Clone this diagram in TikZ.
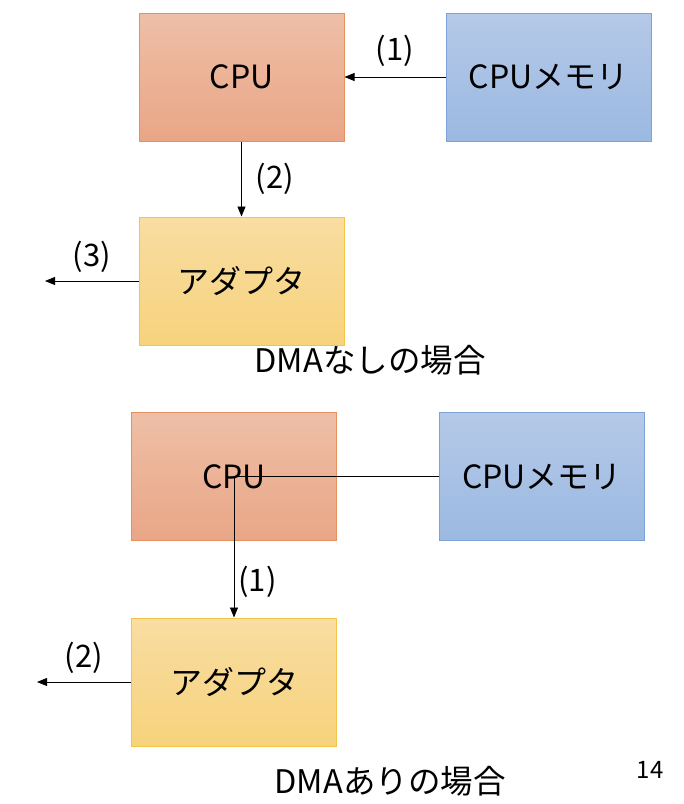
\documentclass[tikz,border=0pt]{standalone}
\usepackage{fontspec}
\setmainfont{Noto Sans CJK JP}
\usetikzlibrary{positioning,arrows.meta}
\definecolor{cpuTop}{RGB}{238,191,167}
\definecolor{cpuBot}{RGB}{233,166,134}
\definecolor{cpuLine}{RGB}{228,145,95}
\definecolor{memTop}{RGB}{181,201,232}
\definecolor{memBot}{RGB}{155,185,225}
\definecolor{memLine}{RGB}{125,162,215}
\definecolor{adpTop}{RGB}{249,221,162}
\definecolor{adpBot}{RGB}{246,211,124}
\definecolor{adpLine}{RGB}{243,196,72}
\begin{document}
\begin{tikzpicture}[x=1pt,y=-1pt,
    box/.style={minimum width=205pt, minimum height=128pt, inner sep=0pt,
        line width=1pt, font=\fontsize{32}{38}\selectfont},
    cpu/.style={box, draw=cpuLine, top color=cpuTop, bottom color=cpuBot},
    mem/.style={box, draw=memLine, top color=memTop, bottom color=memBot},
    adp/.style={box, draw=adpLine, top color=adpTop, bottom color=adpBot},
    lbl/.style={font=\fontsize{31}{36}\selectfont, inner sep=2pt},
    caption/.style={font=\fontsize{32.5}{38}\selectfont, anchor=base, inner sep=0pt},
    arr/.style={line width=0.8pt, -{Triangle[length=10pt,width=8pt]}}]
    \useasboundingbox (0,0) rectangle (684,804);

    % DMA nashi
    \node[cpu] (cpu1) at (241.5,77) {CPU};
    \node[mem] (mem1) at (548.5,77) {CPUメモリ};
    \node[adp] (adp1) at (241.5,281) {アダプタ};
    \coordinate (out1) at (45,281);
    \draw[arr] (mem1) -- node[lbl, above=8pt] {(1)} (cpu1);
    \draw[arr] (cpu1) -- node[lbl, right=12pt] {(2)} (adp1);
    \draw[arr] (adp1) -- node[lbl, above=6pt] {(3)} (out1);
    \node[caption] (cap1) at (370,372) {DMAなしの場合};

    % DMA ari
    \node[cpu] (cpu2) at (234,476.5) {CPU};
    \node[mem] (mem2) at (542,476.5) {CPUメモリ};
    \node[adp] (adp2) at (234,682) {アダプタ};
    \coordinate (out2) at (37,682);
    \draw[arr] (mem2.west) -- (cpu2.center) -- node[lbl, pos=0.75, right=2pt] {(1)} (adp2.north);
    \draw[arr] (adp2) -- node[lbl, above=6pt] {(2)} (out2);
    \node[caption] (cap2) at (390,793) {DMAありの場合};

    \node[anchor=base, font=\fontsize{24}{28}\selectfont, inner sep=0pt] (page) at (650,778) {14};
\end{tikzpicture}
\end{document}
